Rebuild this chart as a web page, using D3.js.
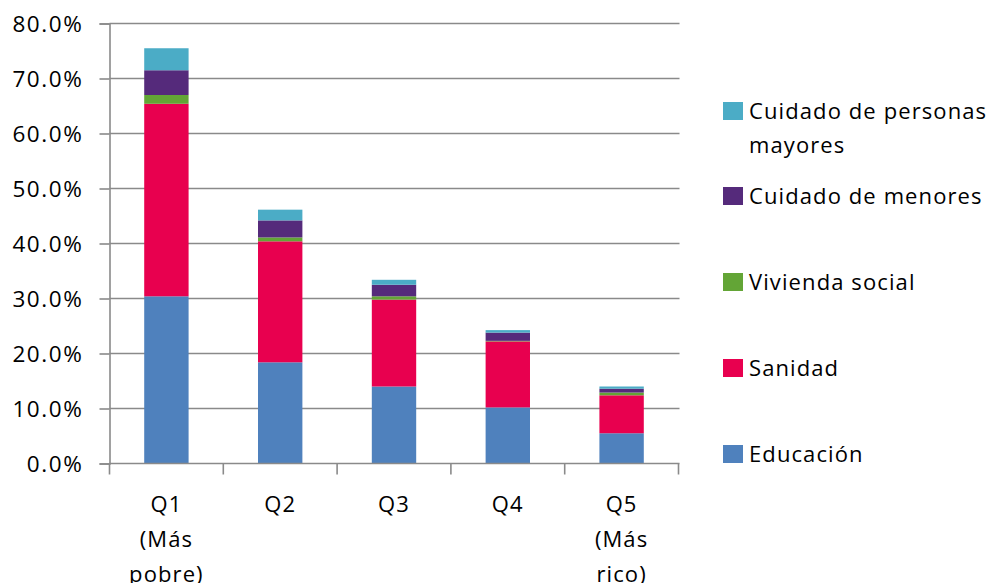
<!DOCTYPE html>
<html>
<head>
<meta charset="utf-8">
<script src="https://cdn.jsdelivr.net/npm/d3@7"></script>
<style>
  html, body { margin: 0; padding: 0; background: #fff; }
  svg { display: block; }
  text { font-family: "Open Sans", Lato, sans-serif; fill: #000; }
</style>
</head>
<body>
<svg id="chart" width="990" height="583"></svg>
<script>
// ---- data ----
const categories = ["Q1", "Q2", "Q3", "Q4", "Q5"];
const categoryLines = [["Q1", "(Más", "pobre)"], ["Q2"], ["Q3"], ["Q4"], ["Q5", "(Más", "rico)"]];
const educacion = [30.4, 18.4, 14.0, 10.2, 5.5];
const sanidad   = [35.0, 22.0, 15.8, 12.0, 6.9];
const vivienda  = [1.6, 0.7, 0.6, 0.1, 0.5];
const menores   = [4.5, 3.1, 2.1, 1.5, 0.7];
const mayores   = [4.0, 1.95, 0.9, 0.45, 0.4];
const seriesNames = ["Educación", "Sanidad", "Vivienda social", "Cuidado de menores", "Cuidado de personas mayores"];
const legendLines = [["Educación"], ["Sanidad"], ["Vivienda social"], ["Cuidado de menores"], ["Cuidado de personas", "mayores"]];
const colors = ["#4F81BD", "#E8004F", "#63A536", "#552A7B", "#4BACC6"];
const yTicks = [0, 10, 20, 30, 40, 50, 60, 70, 80];

// ---- build table ----
const seriesValues = [educacion, sanidad, vivienda, menores, mayores];
const table = categories.map((c, i) => {
  const row = { cat: c };
  seriesNames.forEach((s, j) => row[s] = seriesValues[j][i]);
  return row;
});
const stacked = d3.stack().keys(seriesNames)(table);

const svg = d3.select("#chart");
const x = d3.scaleBand().domain(categories).range([109.5, 678.5]).paddingInner(0.61).paddingOuter(0.305);
const y = d3.scaleLinear().domain([0, 80]).range([463.5, 23.5]);
const FS = "22px";
const LS = "1.1px";

// gridlines
svg.append("g").selectAll("line").data(yTicks.slice(1)).join("line")
  .attr("x1", 109.5).attr("x2", 679.5)
  .attr("y1", d => y(d)).attr("y2", d => y(d))
  .attr("stroke", "#8a8a8a").attr("stroke-width", 1.6);

// bars
svg.append("g").selectAll("g").data(stacked).join("g")
  .attr("fill", (d, i) => colors[i])
  .selectAll("rect").data(d => d).join("rect")
  .attr("x", d => x(d.data.cat))
  .attr("width", x.bandwidth())
  .attr("y", d => y(d[1]))
  .attr("height", d => Math.max(0, y(d[0]) - y(d[1])));

// y axis
const yAxis = svg.append("g").attr("transform", "translate(109.5,0)")
  .call(d3.axisLeft(y).tickValues(yTicks).tickSize(10).tickPadding(16)
    .tickFormat(d => d.toFixed(1) + "%"));
yAxis.select(".domain").attr("stroke", "#8a8a8a").attr("stroke-width", 1.6);
yAxis.selectAll(".tick line").attr("stroke", "#8a8a8a").attr("stroke-width", 1.6);
yAxis.selectAll(".tick text").style("font-size", "22.5px").style("letter-spacing", "1.6px").attr("fill", "#000")
  .style("font-family", "'Open Sans', sans-serif").attr("dy", "0.36em");

// x axis baseline and ticks between categories
const gx = svg.append("g");
gx.append("line").attr("x1", 109.5).attr("x2", 679.5)
  .attr("y1", y(0)).attr("y2", y(0)).attr("stroke", "#8a8a8a").attr("stroke-width", 1.6);
const bounds = d3.range(categories.length + 1).map(i => x.range()[0] + i * x.step());
gx.selectAll("line.tk").data(bounds).join("line").attr("class", "tk")
  .attr("x1", d => d).attr("x2", d => d)
  .attr("y1", y(0)).attr("y2", y(0) + 11)
  .attr("stroke", "#8a8a8a").attr("stroke-width", 1.6);

// x labels
gx.selectAll("text.xl").data(categories).join("text").attr("class", "xl")
  .attr("text-anchor", "middle")
  .style("font-size", FS).style("letter-spacing", LS)
  .each(function(d, i) {
    const t = d3.select(this);
    categoryLines[i].forEach((ln, k) => {
      t.append("tspan").attr("x", x(d) + x.bandwidth() / 2).attr("y", 511.5 + k * 35).text(ln);
    });
  });

// legend (reverse order, top = last series)
const legendY = [454, 368, 282, 196, 111];
const lg = svg.append("g");
seriesNames.forEach((s, i) => {
  const g = lg.append("g");
  g.append("rect").attr("x", 723).attr("y", legendY[i] - 9).attr("width", 20).attr("height", 18).attr("fill", colors[i]);
  const t = g.append("text").style("font-size", FS).style("letter-spacing", LS);
  legendLines[i].forEach((ln, k) => {
    t.append("tspan").attr("x", 749).attr("y", legendY[i] + 8 + k * 34).text(ln);
  });
});
</script>
</body>
</html>
